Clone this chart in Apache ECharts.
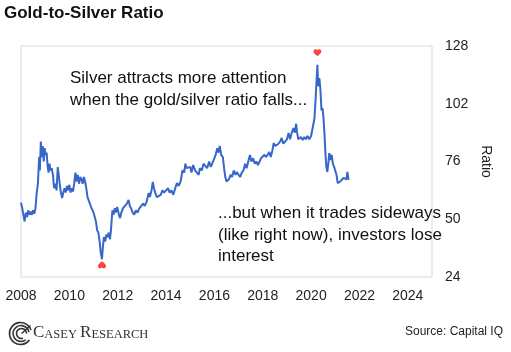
<!DOCTYPE html>
<html>
<head>
<meta charset="utf-8">
<script src="https://cdn.jsdelivr.net/npm/echarts@6/dist/echarts.min.js"></script>
<style>
  html, body { margin: 0; padding: 0; background: #fff; }
  #chart { width: 511px; height: 352px; }
</style>
</head>
<body>
<div id="chart"></div>
<script>
// 金银比 数据
const years = [
  2008.00, 2008.05, 2008.10, 2008.15, 2008.20, 2008.25, 2008.30, 2008.35, 2008.40, 2008.45,
  2008.50, 2008.55, 2008.60, 2008.65, 2008.70, 2008.75, 2008.78, 2008.82, 2008.86, 2008.90,
  2008.94, 2008.98, 2009.02, 2009.06, 2009.10, 2009.14, 2009.18, 2009.22, 2009.27, 2009.32,
  2009.37, 2009.42, 2009.47, 2009.52, 2009.56, 2009.60, 2009.65, 2009.70, 2009.75, 2009.80,
  2009.85, 2009.90, 2009.95, 2010.00, 2010.05, 2010.10, 2010.15, 2010.20, 2010.25, 2010.30,
  2010.35, 2010.40, 2010.45, 2010.50, 2010.55, 2010.60, 2010.65, 2010.70, 2010.75, 2010.80,
  2010.85, 2010.90, 2010.95, 2011.00, 2011.05, 2011.10, 2011.15, 2011.20, 2011.25, 2011.30,
  2011.35, 2011.39, 2011.43, 2011.48, 2011.53, 2011.58, 2011.63, 2011.68, 2011.72, 2011.78,
  2011.83, 2011.88, 2011.93, 2011.98, 2012.05, 2012.10, 2012.15, 2012.22, 2012.30, 2012.38,
  2012.45, 2012.50, 2012.55, 2012.62, 2012.68, 2012.75, 2012.82, 2012.90, 2012.97, 2013.05,
  2013.12, 2013.20, 2013.28, 2013.33, 2013.40, 2013.45, 2013.50, 2013.55, 2013.62, 2013.70,
  2013.78, 2013.85, 2013.92, 2014.00, 2014.08, 2014.15, 2014.22, 2014.30, 2014.38, 2014.45,
  2014.52, 2014.60, 2014.68, 2014.75, 2014.80, 2014.85, 2014.92, 2015.00, 2015.05, 2015.12,
  2015.20, 2015.28, 2015.35, 2015.40, 2015.48, 2015.55, 2015.62, 2015.70, 2015.78, 2015.85,
  2015.92, 2016.00, 2016.05, 2016.12, 2016.17, 2016.22, 2016.28, 2016.35, 2016.40, 2016.45,
  2016.50, 2016.55, 2016.60, 2016.67, 2016.73, 2016.80, 2016.87, 2016.93, 2017.00, 2017.07,
  2017.13, 2017.20, 2017.27, 2017.33, 2017.40, 2017.47, 2017.53, 2017.60, 2017.67, 2017.73,
  2017.80, 2017.87, 2017.93, 2018.00, 2018.07, 2018.13, 2018.20, 2018.27, 2018.33, 2018.40,
  2018.45, 2018.52, 2018.58, 2018.65, 2018.72, 2018.78, 2018.85, 2018.92, 2019.00, 2019.07,
  2019.13, 2019.20, 2019.27, 2019.33, 2019.38, 2019.42, 2019.47, 2019.52, 2019.58, 2019.65,
  2019.72, 2019.78, 2019.85, 2019.92, 2020.00, 2020.07, 2020.14, 2020.19, 2020.26, 2020.29,
  2020.34, 2020.38, 2020.43, 2020.47, 2020.51, 2020.55, 2020.59, 2020.63, 2020.67, 2020.72,
  2020.75, 2020.80, 2020.85, 2020.90, 2020.95, 2021.00, 2021.05, 2021.10, 2021.15, 2021.20,
  2021.27, 2021.34, 2021.40, 2021.46, 2021.50, 2021.55
];
const ratios = [
  57.5, 55, 52, 49, 53, 51, 54, 52, 53.5, 52,
  54, 52.5, 55, 62, 66, 78, 72, 85, 78, 83,
  76, 82, 79, 80, 74, 71, 75, 72, 73, 70,
  64, 66, 63, 73.5, 70, 66, 62, 59.5, 62, 64,
  62, 65, 63, 65.5, 62, 64, 62.5, 66, 71, 67,
  70, 66, 69, 68, 66, 69, 67, 64, 60, 58.5,
  59, 55.5, 56, 53, 51, 49, 45, 44, 40, 35,
  32, 38, 42, 40, 43, 42, 44, 41, 45, 54,
  52, 55, 53, 55.5, 52, 50.5, 53, 55, 55.5, 57,
  58.7, 56, 55, 53, 52, 54, 53, 55, 55, 57,
  56, 58, 61.8, 60, 63, 66.8, 64, 62, 60, 59.6,
  61, 63, 62, 63, 64, 62, 63, 61, 64, 66.3,
  65, 67, 72, 71, 75, 73, 73.5, 73.6, 71, 74.4,
  72, 71.3, 70, 73, 72, 75, 74, 73, 76, 73.6,
  74, 77.5, 79, 82, 80, 83, 79, 78, 73, 69,
  67, 66.3, 68, 70, 69, 72, 70, 71.3, 70, 69,
  71, 72, 75, 73, 76, 78.9, 76, 77.5, 75, 76,
  74.4, 76, 77.5, 77, 79, 78, 79, 80.3, 78, 81,
  84.3, 83, 82.6, 84, 85, 86.6, 84, 84.8, 86, 88.8,
  86, 89, 91, 89, 93, 89, 86, 85.7, 87, 85.7,
  87, 86, 87.5, 86, 87.5, 88, 95.6, 105, 119.5, 110,
  113.6, 109, 99, 100, 96, 88.8, 80, 73.6, 71.3, 76,
  79.8, 76.7, 79, 75, 73.6, 74.4, 70, 66.3, 65.4, 67,
  66.5, 68.6, 67.7, 68, 71.3, 67.7
];

// 红色标记（高点上方、低点下方）
const markerYears = [2020.26, 2011.35];
const markerValues = [125, 29.5];
const markerRotate = [0, 180];

const xTicks = [2008, 2010, 2012, 2014, 2016, 2018, 2020, 2022, 2024];
const yTicks = [24, 50, 76, 102, 128];

const FONT = '"Liberation Sans", Arial, sans-serif';
const heart = 'path://M5,10 C3,8 0,6 0,3 C0,1 1.5,0 2.8,0 C3.9,0 4.6,0.7 5,1.6 C5.4,0.7 6.1,0 7.2,0 C8.5,0 10,1 10,3 C10,6 7,8 5,10 Z';

const chart = echarts.init(document.getElementById('chart'));

const option = {
    backgroundColor: '#fff',
    animation: false,
    grid: {
        left: 21,
        right: 79,
        top: 46,
        bottom: 75,
        show: true,
        borderColor: '#d9d9d9',
        borderWidth: 1
    },
    xAxis: {
        type: 'value',
        min: 2008,
        max: 2025,
        interval: 2,
        axisLine: { show: false },
        axisTick: { show: false },
        splitLine: { show: false },
        axisLabel: {
            margin: 12,
            color: '#222',
            fontFamily: FONT,
            fontSize: 14,
            showMaxLabel: false,
            formatter: v => (xTicks.indexOf(v) >= 0 ? String(v) : '')
        }
    },
    yAxis: {
        type: 'value',
        position: 'right',
        min: 24,
        max: 128,
        interval: 26,
        name: 'Ratio',
        nameLocation: 'middle',
        nameRotate: -90,
        nameGap: 44,
        nameTextStyle: { color: '#222', fontFamily: FONT, fontSize: 14 },
        axisLine: { show: false },
        axisTick: { show: false },
        splitLine: { show: false },
        axisLabel: {
            margin: 13,
            color: '#222',
            fontFamily: FONT,
            fontSize: 14,
            formatter: v => (yTicks.indexOf(v) >= 0 ? String(v) : '')
        }
    },
    series: [
        {
            type: 'line',
            data: years.map((y, i) => [y, ratios[i]]),
            showSymbol: false,
            lineStyle: { color: '#3767c8', width: 2 },
            z: 3
        },
        {
            type: 'scatter',
            data: markerYears.map((y, i) => ({
                value: [y, markerValues[i]],
                symbolRotate: markerRotate[i]
            })),
            symbol: heart,
            symbolSize: [8, 7],
            itemStyle: { color: '#ff1010' },
            z: 4
        }
    ],
    graphic: [
        {
            type: 'text',
            left: 4,
            top: 5,
            style: {
                text: 'Gold-to-Silver Ratio',
                fill: '#111',
                font: 'bold 17px ' + FONT
            }
        },
        {
            type: 'text',
            left: 70,
            top: 67,
            style: {
                text: 'Silver attracts more attention\nwhen the gold/silver ratio falls...',
                fill: '#111',
                font: '17px ' + FONT,
                lineHeight: 22
            }
        },
        {
            type: 'text',
            left: 218,
            top: 203,
            style: {
                text: '...but when it trades sideways\n(like right now), investors lose\ninterest',
                fill: '#111',
                font: '17px ' + FONT,
                lineHeight: 21.5
            }
        },
        {
            type: 'text',
            right: 8,
            top: 326,
            style: {
                text: 'Source: Capital IQ',
                fill: '#222',
                font: '12px ' + FONT
            }
        },
        // Casey Research 标志
        {
            type: 'group',
            left: 7,
            top: 320,
            children: [
                { type: 'arc', shape: { cx: 12, cy: 12, r: 11, startAngle: 0.2 * Math.PI, endAngle: 1.9 * Math.PI },
                  style: { stroke: '#333', fill: null, lineWidth: 1.6 } },
                { type: 'arc', shape: { cx: 12.5, cy: 12, r: 8, startAngle: 0.3 * Math.PI, endAngle: 1.95 * Math.PI },
                  style: { stroke: '#333', fill: null, lineWidth: 1.6 } },
                { type: 'arc', shape: { cx: 13, cy: 12, r: 5, startAngle: 0.4 * Math.PI, endAngle: 2.0 * Math.PI },
                  style: { stroke: '#333', fill: null, lineWidth: 1.6 } },
                { type: 'line', shape: { x1: 13, y1: 12, x2: 22, y2: 4 },
                  style: { stroke: '#333', lineWidth: 1.4 } }
            ]
        },
        {
            type: 'text',
            left: 33,
            top: 324,
            style: {
                text: '{b|C}{s|ASEY }{b|R}{s|ESEARCH}',
                rich: {
                    b: { fontFamily: '"Liberation Serif", serif', fontSize: 17, fill: '#333', verticalAlign: 'bottom', lineHeight: 18 },
                    s: { fontFamily: '"Liberation Serif", serif', fontSize: 12.5, fill: '#333', verticalAlign: 'bottom', lineHeight: 18 }
                }
            }
        }
    ]
};

chart.setOption(option);
</script>
</body>
</html>
